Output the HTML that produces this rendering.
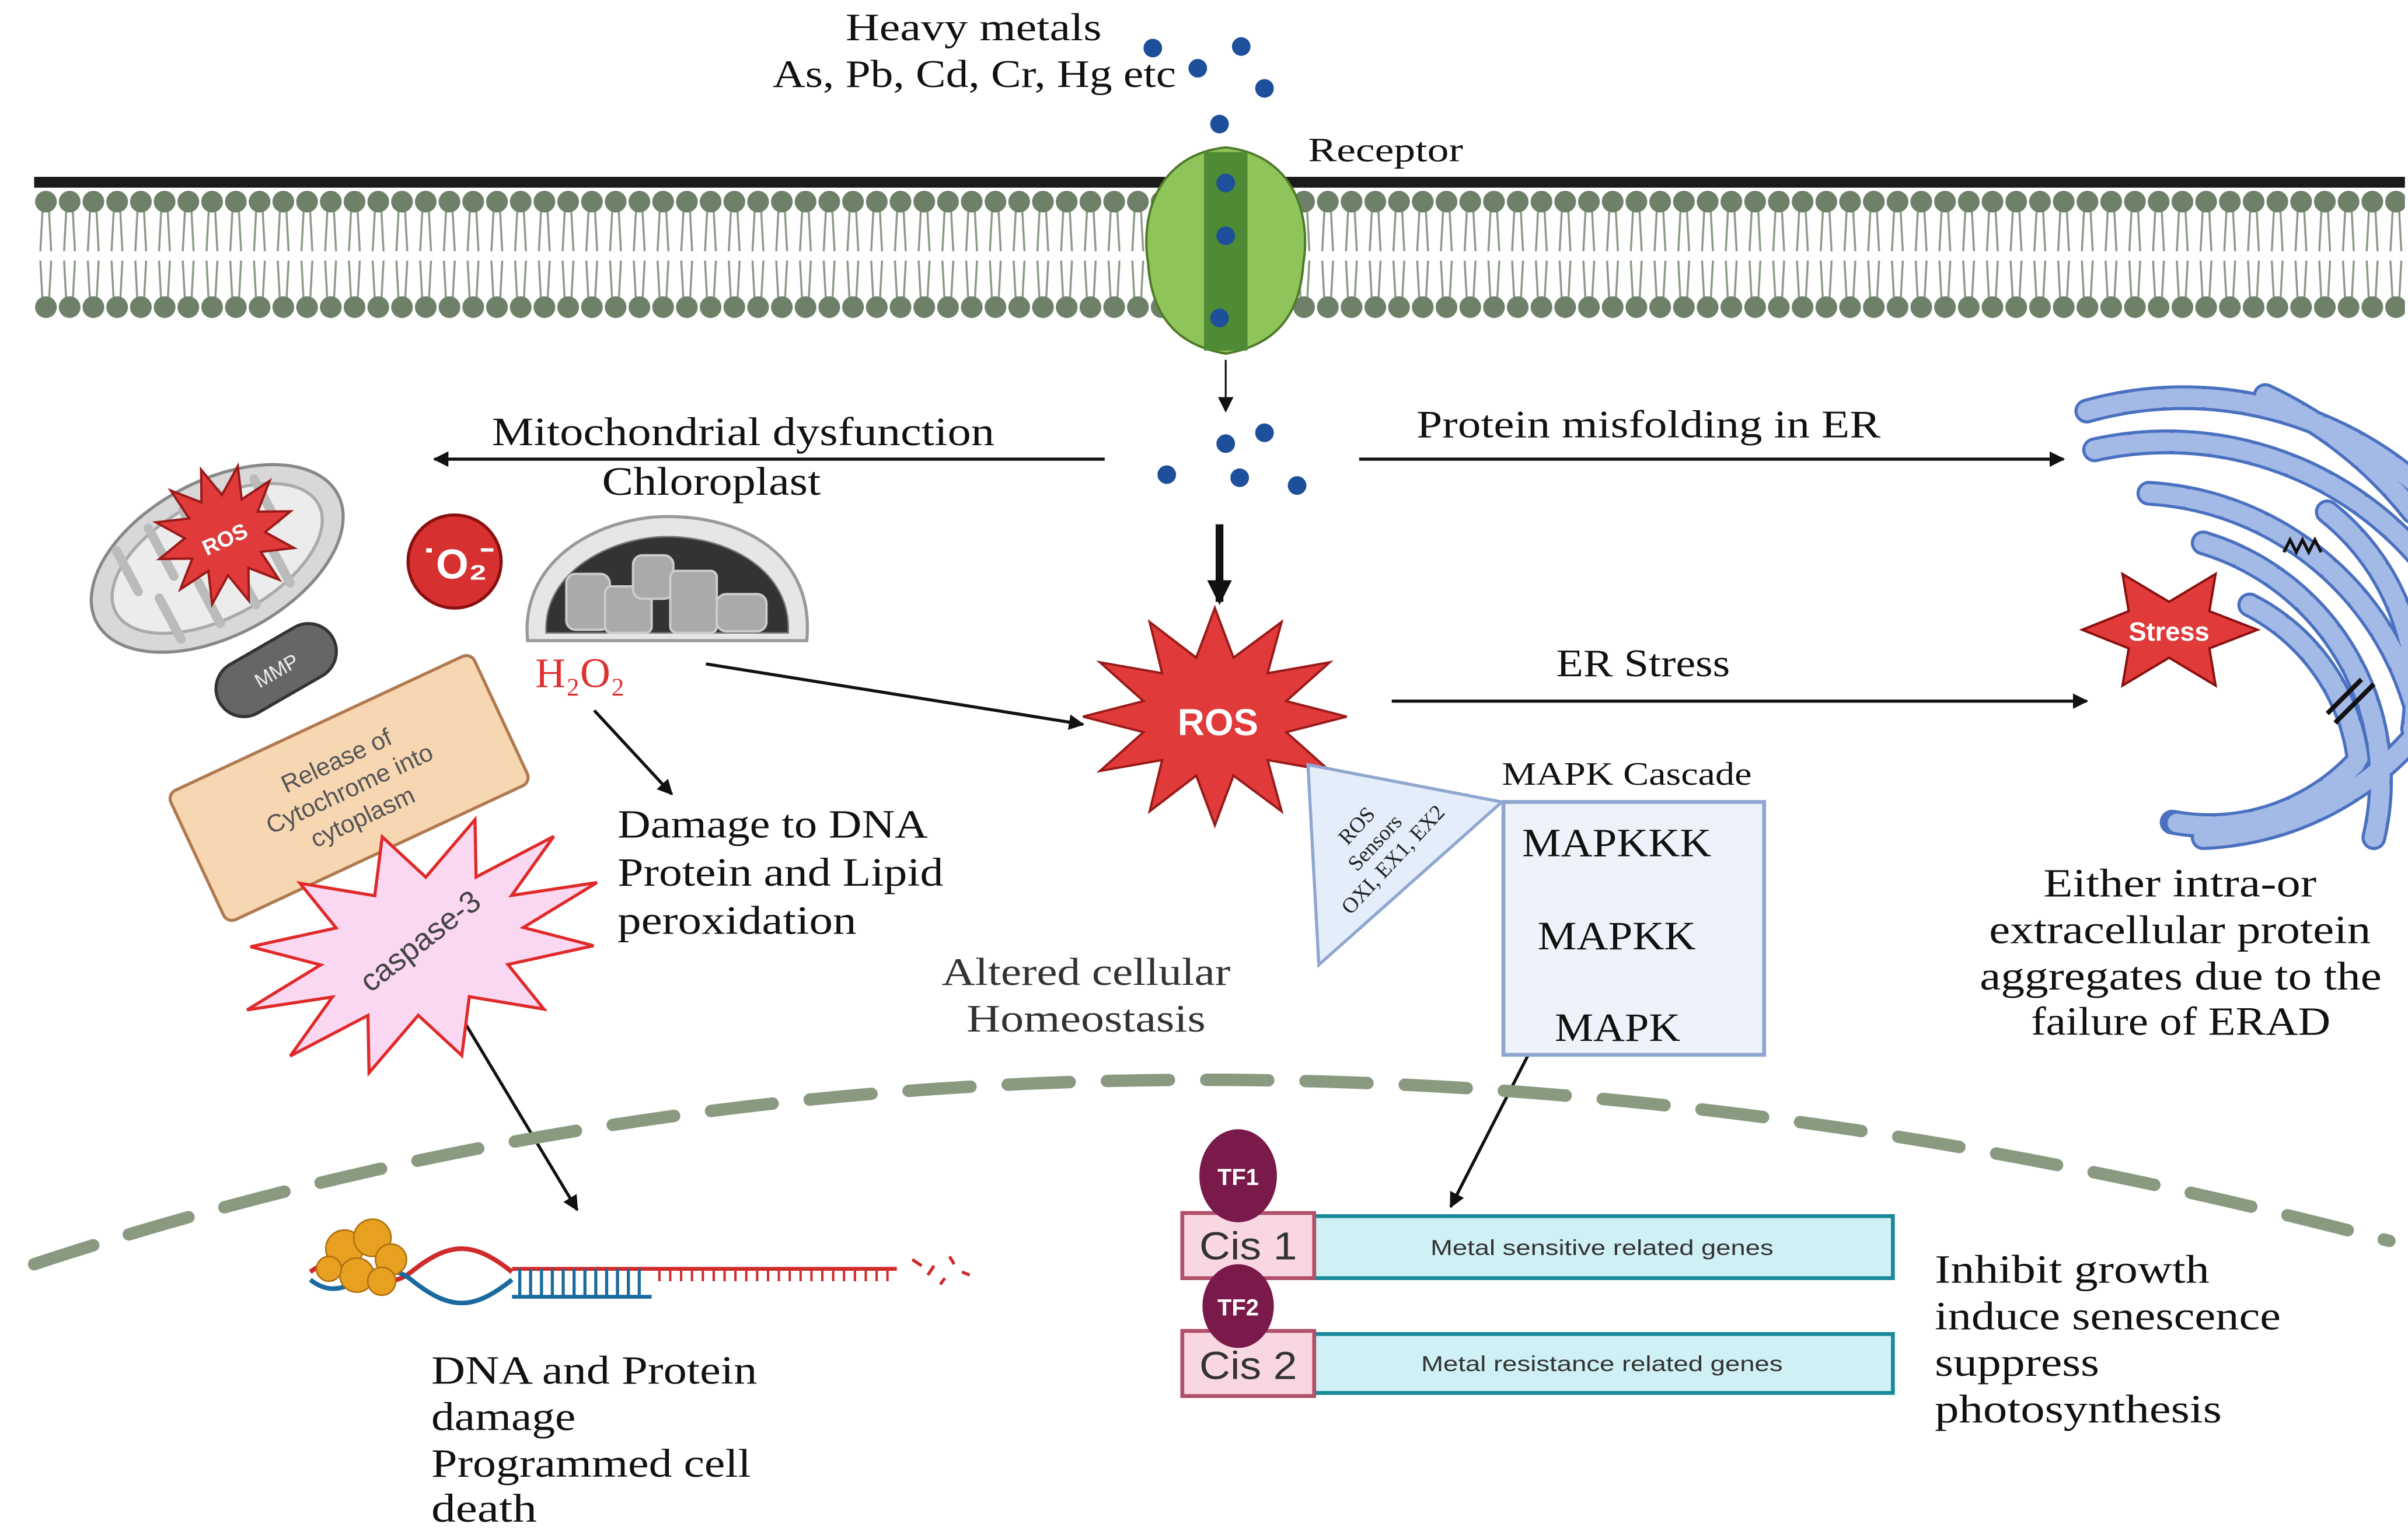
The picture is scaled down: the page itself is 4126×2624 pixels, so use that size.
<!DOCTYPE html>
<html><head><meta charset="utf-8"><style>html,body{margin:0;padding:0;background:#fff}svg{display:block}</style></head><body>
<svg width="4126" height="2624" viewBox="0 0 1552 987" preserveAspectRatio="none" xmlns="http://www.w3.org/2000/svg">
<defs>
<marker id="ah" markerWidth="10" markerHeight="10" refX="9" refY="5" orient="auto" markerUnits="userSpaceOnUse"><path d="M0,0 L10,5 L0,10 z" fill="#111"/></marker>
<marker id="ah2" markerWidth="16" markerHeight="16" refX="14" refY="8" orient="auto" markerUnits="userSpaceOnUse"><path d="M0,0 L16,8 L0,16 z" fill="#111"/></marker>
<pattern id="lip" x="22" y="120" width="15.3" height="90" patternUnits="userSpaceOnUse">
<g stroke="#8a9a86" stroke-width="1.3" fill="none">
<path d="M5.5,14 L4,42 M9.5,14 L11,42"/><path d="M5.5,76 L4,48 M9.5,76 L11,48"/></g>
<circle cx="7.6" cy="10" r="7" fill="#6f8069"/><circle cx="7.6" cy="78" r="7" fill="#6f8069"/>
</pattern>
</defs>
<rect width="1552" height="987" fill="#fff"/>
<rect x="22" y="114" width="1528" height="7" fill="#1a1a1a"/>
<rect x="22" y="120" width="1528" height="90" fill="url(#lip)"/>
<path d="M790,95 C745,100 735,140 740,170 C742,200 755,222 790,228 C825,222 838,200 840,170 C845,140 835,100 790,95 z" fill="#8fc45a" stroke="#4e7a2a" stroke-width="1.5"/>
<rect x="776" y="98" width="28" height="128" fill="#4f8a35"/>
<g fill="#1e4f9a"><circle cx="790" cy="118" r="6"/><circle cx="790" cy="152" r="6"/><circle cx="786" cy="205" r="6"/>
<circle cx="743" cy="31" r="6"/><circle cx="800" cy="30" r="6"/><circle cx="772" cy="44" r="6"/><circle cx="815" cy="57" r="6"/><circle cx="786" cy="80" r="6"/>
<circle cx="790" cy="286" r="6"/><circle cx="815" cy="279" r="6"/><circle cx="752" cy="306" r="6"/><circle cx="799" cy="308" r="6"/><circle cx="836" cy="313" r="6"/></g>
<g font-family="Liberation Serif, serif" fill="#111">
<text x="545" y="26" font-size="25" textLength="165" lengthAdjust="spacingAndGlyphs">Heavy metals</text>
<text x="498" y="56" font-size="25" textLength="260" lengthAdjust="spacingAndGlyphs">As, Pb, Cd, Cr, Hg etc</text>
<text x="843" y="104" font-size="22" textLength="100" lengthAdjust="spacingAndGlyphs">Receptor</text>
<text x="317" y="287" font-size="26" textLength="324" lengthAdjust="spacingAndGlyphs">Mitochondrial dysfunction</text>
<text x="388" y="319" font-size="26" textLength="141" lengthAdjust="spacingAndGlyphs">Chloroplast</text>
<text x="913" y="282" font-size="25" textLength="299" lengthAdjust="spacingAndGlyphs">Protein misfolding in ER</text>
<text x="1003" y="436" font-size="25" textLength="112" lengthAdjust="spacingAndGlyphs">ER Stress</text>
<text x="968" y="506" font-size="21" textLength="161" lengthAdjust="spacingAndGlyphs">MAPK Cascade</text>
<text x="398" y="540" font-size="26" textLength="200" lengthAdjust="spacingAndGlyphs">Damage to DNA</text>
<text x="398" y="571" font-size="26" textLength="210" lengthAdjust="spacingAndGlyphs">Protein and Lipid</text>
<text x="398" y="602" font-size="26" textLength="154" lengthAdjust="spacingAndGlyphs">peroxidation</text>
<text x="607" y="635" font-size="25" fill="#333" textLength="186" lengthAdjust="spacingAndGlyphs">Altered cellular</text>
<text x="623" y="665" font-size="25" fill="#333" textLength="154" lengthAdjust="spacingAndGlyphs">Homeostasis</text>
<text x="1317" y="578" font-size="26" textLength="176" lengthAdjust="spacingAndGlyphs">Either intra-or</text>
<text x="1282" y="608" font-size="26" textLength="246" lengthAdjust="spacingAndGlyphs">extracellular protein</text>
<text x="1276" y="638" font-size="26" textLength="259" lengthAdjust="spacingAndGlyphs">aggregates due to the</text>
<text x="1309" y="667" font-size="26" textLength="193" lengthAdjust="spacingAndGlyphs">failure of ERAD</text>
<text x="1247" y="827" font-size="26" textLength="177" lengthAdjust="spacingAndGlyphs">Inhibit growth</text>
<text x="1247" y="857" font-size="26" textLength="223" lengthAdjust="spacingAndGlyphs">induce senescence</text>
<text x="1247" y="887" font-size="26" textLength="106" lengthAdjust="spacingAndGlyphs">suppress</text>
<text x="1247" y="917" font-size="26" textLength="185" lengthAdjust="spacingAndGlyphs">photosynthesis</text>
<text x="278" y="892" font-size="26" textLength="210" lengthAdjust="spacingAndGlyphs">DNA and Protein</text>
<text x="278" y="922" font-size="26" textLength="93" lengthAdjust="spacingAndGlyphs">damage</text>
<text x="278" y="952" font-size="26" textLength="206" lengthAdjust="spacingAndGlyphs">Programmed cell</text>
<text x="278" y="981" font-size="26" textLength="68" lengthAdjust="spacingAndGlyphs">death</text>
</g>
<g stroke="#111" stroke-width="2" fill="none" marker-end="url(#ah)">
<line x1="790" y1="232" x2="790" y2="265" stroke-width="1.2"/>
<line x1="712" y1="296" x2="280" y2="296"/>
<line x1="876" y1="296" x2="1330" y2="296"/>
<line x1="455" y1="428" x2="698" y2="467"/>
<line x1="383" y1="458" x2="433" y2="512"/>
<line x1="897" y1="452" x2="1345" y2="452"/>
<line x1="985" y1="680" x2="935" y2="778"/>
<line x1="300" y1="660" x2="372" y2="780"/>
<line x1="1045" y1="560" x2="1045" y2="585"/>
<line x1="1045" y1="620" x2="1045" y2="645"/>
</g>
<line x1="786" y1="338" x2="786" y2="388" stroke="#111" stroke-width="5" marker-end="url(#ah2)"/>
<path d="M22,815 Q720,585 1540,800" fill="none" stroke="#8a9a80" stroke-width="8" stroke-dasharray="40 24" stroke-linecap="round"/>
<polygon points="868,462 829,472 857,497 817,490 826,523 795,500 783,532 771,500 741,523 749,490 709,497 737,472 698,462 737,452 709,427 749,434 741,401 771,424 783,392 795,424 826,401 817,434 857,427 829,452" fill="#e03a3a" stroke="#9a1a1a" stroke-width="1.5"/>
<text x="785" y="474" font-family="Liberation Sans, sans-serif" font-weight="bold" font-size="24" fill="#fff" text-anchor="middle">ROS</text>
<g transform="translate(140,360) rotate(-28)">
<ellipse rx="88" ry="50" fill="#d8d8d8" stroke="#888" stroke-width="2"/>
<ellipse rx="74" ry="38" fill="#ececec" stroke="#aaa" stroke-width="2"/>
<path d="M-55,-35 v30 M-30,-38 v35 M-5,-38 v30 M20,-38 v35 M45,-34 v30 M-45,35 v-30 M-18,38 v-30 M8,38 v-32 M34,36 v-30" stroke="#bbb" stroke-width="6" stroke-linecap="round"/>
</g>
<polygon transform="rotate(-20 145 345)" points="190,345 170,352 184,368 163,363 168,384 152,370 145,390 138,370 122,384 127,363 106,368 120,352 100,345 120,338 106,322 127,327 122,306 138,320 145,300 152,320 168,306 163,327 184,322 170,338" fill="#e03a3a" stroke="#9a1a1a" stroke-width="1.5"/>
<text transform="translate(147,352) rotate(-25)" font-family="Liberation Sans, sans-serif" font-weight="bold" font-size="14" fill="#fff" text-anchor="middle">ROS</text>
<g transform="translate(178,432) rotate(-30)"><rect x="-42" y="-18" width="84" height="36" rx="18" fill="#666" stroke="#333" stroke-width="2"/>
<text y="5" font-family="Liberation Sans, sans-serif" font-size="13" fill="#eee" text-anchor="middle">MMP</text></g>
<g transform="translate(225,508) rotate(-25)"><rect x="-108" y="-46" width="216" height="92" rx="6" fill="#f7d6b2" stroke="#b07a50" stroke-width="2"/>
<g font-family="Liberation Sans, sans-serif" font-size="16" fill="#555" text-anchor="middle"><text y="-14">Release of</text><text y="6">Cytochrome into</text><text y="26">cytoplasm</text></g></g>
<circle cx="293" cy="362" r="30" fill="#d63030" stroke="#8a1010" stroke-width="2"/>
<text x="293" y="373" font-family="Liberation Sans, sans-serif" font-weight="bold" font-size="27" fill="#fff" text-anchor="middle">˙O₂̄</text>
<g transform="translate(0,28)">
<path d="M340,385 C335,330 390,305 430,305 C480,305 525,330 520,385 z" fill="#e6e6e6" stroke="#999" stroke-width="2"/>
<path d="M352,380 C350,340 395,318 430,318 C470,318 510,340 508,380 z" fill="#333" stroke="#777"/>
<g fill="#aaa" stroke="#ccc" stroke-width="1.5"><rect x="365" y="342" width="28" height="36" rx="6"/><rect x="390" y="350" width="30" height="30" rx="4"/><rect x="408" y="330" width="26" height="28" rx="6"/><rect x="432" y="340" width="30" height="40" rx="4"/><rect x="462" y="355" width="32" height="24" rx="6"/></g>
</g>
<text x="345" y="443" font-family="Liberation Serif, serif" font-size="27" fill="#e03030">H₂O₂</text>
<polygon transform="rotate(-20 272 610)" points="392,610 337.5,621 376,647.5 320,640 332,675 289.5,651 272,685 254.5,651 212,675 224,640 168,647.5 206.5,621 152,610 206.5,599 168,572.5 224,580 212,545 254.5,569 272,535 289.5,569 332,545 320,580 376,572.5 337.5,599" fill="#fbd8f2" stroke="#e02a2a" stroke-width="2"/>
<text transform="translate(275,612) rotate(-38)" font-family="Liberation Sans, sans-serif" font-size="20" fill="#444" text-anchor="middle">caspase-3</text>
<polygon points="843,493 968,517 850,622" fill="#e4eefa" stroke="#8fa6d0" stroke-width="2"/>
<g transform="translate(888,545) rotate(-47)" font-family="Liberation Serif, serif" font-size="14" fill="#222" text-anchor="middle"><text y="-14">ROS</text><text y="2">Sensors</text><text y="18">OXI, EX1, EX2</text></g>
<rect x="969" y="517" width="168" height="163" fill="#eef3fb" stroke="#8fa6d0" stroke-width="2.5"/>
<g font-family="Liberation Serif, serif" font-size="26" fill="#111">
<text x="981" y="552" textLength="122" lengthAdjust="spacingAndGlyphs">MAPKKK</text>
<text x="991" y="612" textLength="102" lengthAdjust="spacingAndGlyphs">MAPKK</text>
<text x="1002" y="671" textLength="81" lengthAdjust="spacingAndGlyphs">MAPK</text></g>
<rect x="847" y="784" width="373" height="40" fill="#cff0f5" stroke="#1a8a9a" stroke-width="2.5"/>
<rect x="847" y="860" width="373" height="38" fill="#cff0f5" stroke="#1a8a9a" stroke-width="2.5"/>
<rect x="762" y="782" width="85" height="42" fill="#f8d7e3" stroke="#b0506a" stroke-width="2.5"/>
<rect x="762" y="858" width="85" height="42" fill="#f8d7e3" stroke="#b0506a" stroke-width="2.5"/>
<ellipse cx="798" cy="758" rx="25" ry="30" fill="#7a1a4a"/>
<ellipse cx="798" cy="842" rx="23" ry="27" fill="#7a1a4a"/>
<g font-family="Liberation Sans, sans-serif" fill="#fff" font-weight="bold" font-size="15" text-anchor="middle"><text x="798" y="764">TF1</text><text x="798" y="848">TF2</text></g>
<g font-family="Liberation Sans, sans-serif" fill="#333" font-size="25"><text x="773" y="812" textLength="63" lengthAdjust="spacingAndGlyphs">Cis 1</text><text x="773" y="889" textLength="63" lengthAdjust="spacingAndGlyphs">Cis 2</text></g>
<g font-family="Liberation Sans, sans-serif" fill="#333" font-size="14"><text x="922" y="809" textLength="221" lengthAdjust="spacingAndGlyphs">Metal sensitive related genes</text><text x="916" y="884" textLength="233" lengthAdjust="spacingAndGlyphs">Metal resistance related genes</text></g>
<path d="M200,820 C225,800 240,840 265,820 S305,800 330,820" fill="none" stroke="#d02a2a" stroke-width="3"/>
<path d="M200,825 C225,845 240,805 265,825 S305,845 330,825" fill="none" stroke="#1a6aa0" stroke-width="3"/>
<line x1="330" y1="818" x2="578" y2="818" stroke="#d02a2a" stroke-width="2.5"/>
<line x1="330" y1="836" x2="420" y2="836" stroke="#1a6aa0" stroke-width="2.5"/>
<path d="M335,818 v18 M342,818 v18 M349,818 v18 M356,818 v18 M363,818 v18 M370,818 v18 M377,818 v18 M384,818 v18 M391,818 v18 M398,818 v18 M405,818 v18 M412,818 v18" stroke="#1a6aa0" stroke-width="2"/>
<path d="M425,818 v8 M432,818 v8 M439,818 v8 M446,818 v8 M453,818 v8 M460,818 v8 M467,818 v8 M474,818 v8 M481,818 v8 M488,818 v8 M495,818 v8 M502,818 v8 M509,818 v8 M516,818 v8 M523,818 v8 M530,818 v8 M537,818 v8 M544,818 v8 M551,818 v8 M558,818 v8 M565,818 v8 M572,818 v8" stroke="#d02a2a" stroke-width="1.5"/>
<path d="M588,812 l6,4 M598,822 l4,-6 M612,810 l3,5 M620,820 l5,2 M606,828 l3,-4" stroke="#d02a2a" stroke-width="2"/>
<g fill="#e8a020" stroke="#b07010" stroke-width="1"><circle cx="222" cy="805" r="12"/><circle cx="240" cy="798" r="12"/><circle cx="252" cy="812" r="10"/><circle cx="230" cy="822" r="11"/><circle cx="246" cy="826" r="9"/><circle cx="212" cy="818" r="8"/></g>
<g fill="none" stroke-linecap="round">
<g stroke="#4a70c0" stroke-width="16">
<path d="M1345,265 A230,230 0 0 1 1555,310"/><path d="M1350,290 A215,215 0 0 1 1560,360"/>
<path d="M1385,318 A190,190 0 0 1 1560,470 A190,190 0 0 1 1420,540"/>
<path d="M1420,350 A160,160 0 0 1 1530,540"/><path d="M1460,255 A260,260 0 0 1 1555,330"/>
<path d="M1450,390 A130,130 0 0 1 1520,490 A130,130 0 0 1 1400,530"/>
<path d="M1500,330 A150,150 0 0 1 1555,470"/></g>
<g stroke="#a3b9e6" stroke-width="12" stroke-dasharray="22 4">
<path d="M1345,265 A230,230 0 0 1 1555,310"/><path d="M1350,290 A215,215 0 0 1 1560,360"/>
<path d="M1385,318 A190,190 0 0 1 1560,470 A190,190 0 0 1 1420,540"/>
<path d="M1420,350 A160,160 0 0 1 1530,540"/><path d="M1460,255 A260,260 0 0 1 1555,330"/>
<path d="M1450,390 A130,130 0 0 1 1520,490 A130,130 0 0 1 1400,530"/>
<path d="M1500,330 A150,150 0 0 1 1555,470"/></g></g>
<path d="M1472,356 l4,-8 l4,8 l4,-8 l4,8 l4,-8 l4,8" stroke="#111" stroke-width="2" fill="none"/>
<path d="M1500,460 l22,-22 M1505,466 l25,-25" stroke="#111" stroke-width="3"/>
<polygon points="1342,406 1372,394 1368,370 1398,388 1428,370 1424,394 1455,406 1424,418 1428,442 1398,424 1368,442 1372,418" fill="#e03a3a" stroke="#8a1010" stroke-width="1.5"/>
<text x="1398" y="413" font-family="Liberation Sans, sans-serif" font-weight="bold" font-size="17" fill="#fff" text-anchor="middle">Stress</text>
</svg>
</body></html>
